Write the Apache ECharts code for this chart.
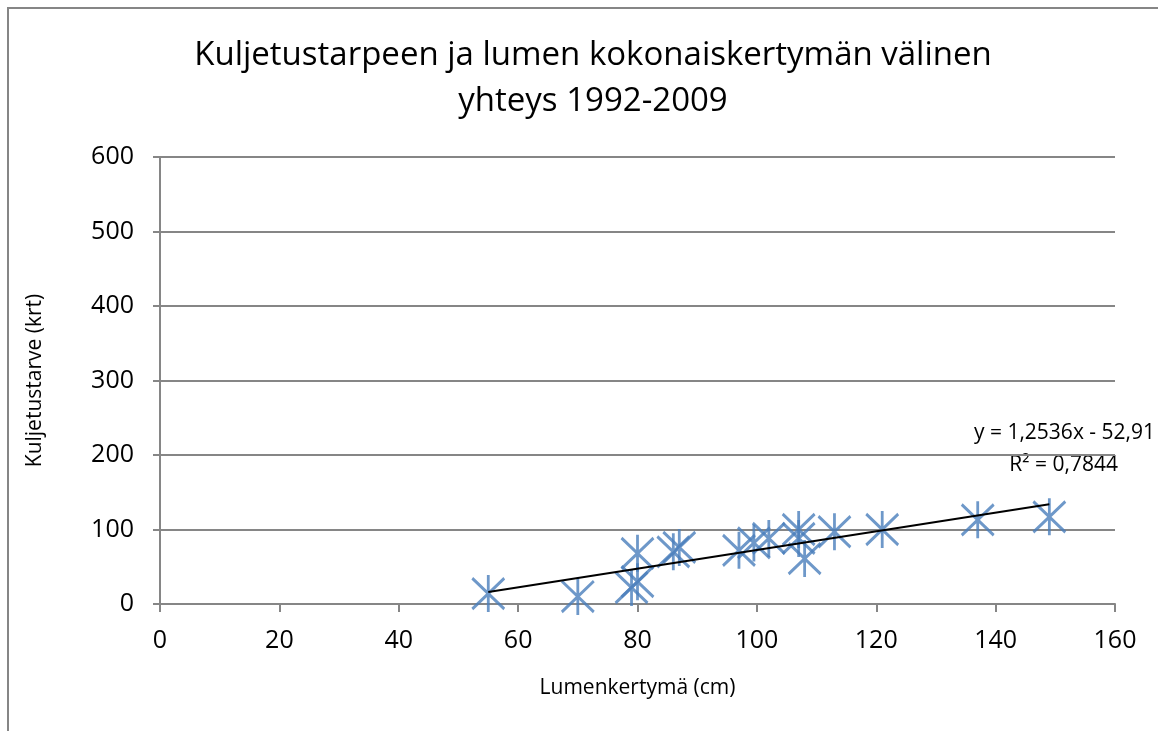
<!DOCTYPE html>
<html>
<head>
<meta charset="utf-8">
<script src="https://cdn.jsdelivr.net/npm/echarts@6/dist/echarts.min.js"></script>
<style>
  html, body { margin: 0; padding: 0; background: #fff; }
  #chart { width: 1158px; height: 731px; }
</style>
</head>
<body>
<div id="chart"></div>
<script>
// snow accumulation (cm) vs. transport need (times), 1992-2009
const snowCm = [55, 70, 79, 80, 80, 86, 87, 97, 99.5, 102, 107, 107, 108, 113, 121, 137, 149];
const transports = [14, 10, 22, 30, 68, 70, 76, 72, 82, 88, 100, 88, 61, 97, 100, 113, 117];

// linear trend as drawn in the picture (ends)
const trendX = [55, 149];
const trendY = [16, 134];

const xTicks = [0, 20, 40, 60, 80, 100, 120, 140, 160];
const yTicks = [0, 100, 200, 300, 400, 500, 600];

const font = '"Open Sans", "Noto Sans", sans-serif';
const blue = '#4A7EBB';
const grey = '#868686';

const points = snowCm.map((x, i) => [x, transports[i]]);
const trend = trendX.map((x, i) => [x, trendY[i]]);

const chart = echarts.init(document.getElementById('chart'));

const option = {
    animation: false,
    backgroundColor: '#fff',
    textStyle: { fontFamily: font },
    title: {
        text: 'Kuljetustarpeen ja lumen kokonaiskertymän välinen\nyhteys 1992-2009',
        left: 588,
        textAlign: 'center',
        top: 28,
        textStyle: { fontFamily: font, fontWeight: 'normal', fontSize: 33, lineHeight: 46, color: '#000' }
    },
    grid: { left: 160, right: 43, top: 157, bottom: 127 },
    xAxis: {
        type: 'value',
        min: xTicks[0], max: xTicks[xTicks.length - 1], interval: 20,
        name: 'Lumenkertymä (cm)',
        nameLocation: 'middle',
        nameGap: 74,
        nameTextStyle: { fontSize: 21, color: '#000', fontFamily: font },
        axisLine: { show: true, onZero: false, lineStyle: { color: grey, width: 2 } },
        axisTick: { show: true, length: 8, lineStyle: { color: grey, width: 2 } },
        axisLabel: { fontSize: 25, color: '#000', margin: 24 },
        splitLine: { show: false }
    },
    yAxis: {
        type: 'value',
        min: yTicks[0], max: yTicks[yTicks.length - 1], interval: 100,
        name: 'Kuljetustarve (krt)',
        nameLocation: 'middle',
        nameGap: 114,
        nameRotate: 90,
        nameTextStyle: { fontSize: 21, color: '#000', fontFamily: font },
        axisLine: { show: true, lineStyle: { color: grey, width: 2 } },
        axisTick: { show: true, length: 7, lineStyle: { color: grey, width: 2 } },
        axisLabel: { fontSize: 25, color: '#000', margin: 26 },
        splitLine: { show: true, lineStyle: { color: grey, width: 2 } }
    },
    graphic: [
        {
            type: 'rect',
            shape: { x: 8, y: 8, width: 1300, height: 900 },
            style: { fill: 'none', stroke: grey, lineWidth: 2 },
            silent: true
        },
        {
            type: 'text',
            right: 3, top: 423,
            style: {
                text: 'y = 1,2536x - 52,91',
                align: 'right',
                fontSize: 21,
                fontFamily: font, fill: '#000'
            }
        },
        {
            type: 'text',
            right: 40, top: 455,
            style: {
                text: 'R² = 0,7844',
                align: 'right',
                fontSize: 21,
                fontFamily: font, fill: '#000'
            }
        }
    ],
    series: [
        {
            type: 'scatter',
            data: points,
            symbol: 'path://M0 2L20 22M20 2L0 22M10 0L10 24',
            symbolSize: [32, 37],
            itemStyle: { color: 'none', borderColor: blue, borderWidth: 3 },
            z: 2
        },
        {
            type: 'line',
            data: trend,
            symbol: 'none',
            lineStyle: { color: '#000', width: 2 },
            z: 3
        }
    ]
};

chart.setOption(option);
</script>
</body>
</html>
